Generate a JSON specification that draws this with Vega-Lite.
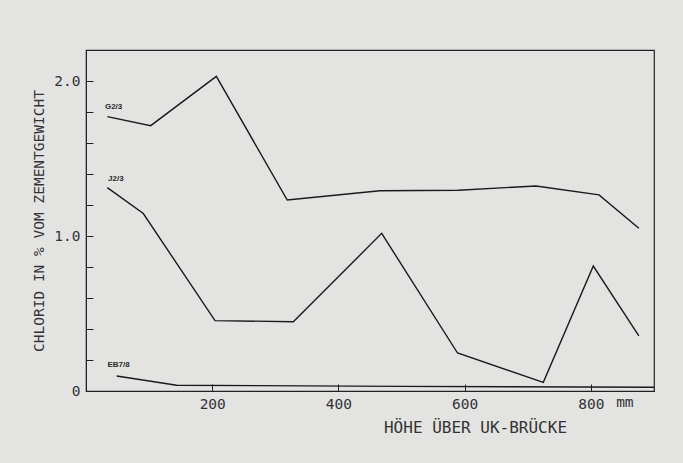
{
  "$schema": "https://vega.github.io/schema/vega-lite/v6.json",
  "width": 568,
  "height": 341,
  "autosize": {"type": "none"},
  "padding": {"left": 86, "top": 50, "right": 29, "bottom": 72},
  "background": "#e3e3e2",
  "config": {
    "view": {"stroke": "#222222", "strokeWidth": 1.2},
    "font": "DejaVu Sans Mono"
  },
  "datasets": {
    "lines": [
      {"serie": "G2/3", "hoehe": 33.8, "chlorid": 1.770},
      {"serie": "G2/3", "hoehe": 102.5, "chlorid": 1.712},
      {"serie": "G2/3", "hoehe": 206.5, "chlorid": 2.030},
      {"serie": "G2/3", "hoehe": 318.9, "chlorid": 1.232},
      {"serie": "G2/3", "hoehe": 465.8, "chlorid": 1.292},
      {"serie": "G2/3", "hoehe": 590, "chlorid": 1.295},
      {"serie": "G2/3", "hoehe": 713, "chlorid": 1.323},
      {"serie": "G2/3", "hoehe": 812.9, "chlorid": 1.265},
      {"serie": "G2/3", "hoehe": 876, "chlorid": 1.050},
      {"serie": "J2/3", "hoehe": 33.8, "chlorid": 1.312},
      {"serie": "J2/3", "hoehe": 90.8, "chlorid": 1.145},
      {"serie": "J2/3", "hoehe": 204.4, "chlorid": 0.454},
      {"serie": "J2/3", "hoehe": 328.5, "chlorid": 0.447},
      {"serie": "J2/3", "hoehe": 468.5, "chlorid": 1.017},
      {"serie": "J2/3", "hoehe": 588.7, "chlorid": 0.245},
      {"serie": "J2/3", "hoehe": 724.6, "chlorid": 0.056},
      {"serie": "J2/3", "hoehe": 803.8, "chlorid": 0.806},
      {"serie": "J2/3", "hoehe": 876, "chlorid": 0.355},
      {"serie": "EB7/8", "hoehe": 48.6, "chlorid": 0.097},
      {"serie": "EB7/8", "hoehe": 143.7, "chlorid": 0.037},
      {"serie": "EB7/8", "hoehe": 500, "chlorid": 0.030},
      {"serie": "EB7/8", "hoehe": 900, "chlorid": 0.024}
    ],
    "labels": [
      {"text": "G2/3", "hoehe": 30, "chlorid": 1.834},
      {"text": "J2/3", "hoehe": 35, "chlorid": 1.368},
      {"text": "EB7/8", "hoehe": 34, "chlorid": 0.168}
    ],
    "unit": [
      {"text": "mm", "hoehe": 840, "chlorid": 0}
    ]
  },
  "layer": [
    {
      "data": {"name": "lines"},
      "mark": {"type": "line", "color": "#1a1a1a", "strokeWidth": 1.4},
      "encoding": {
        "x": {
          "field": "hoehe", "type": "quantitative",
          "scale": {"domain": [0, 900], "nice": false},
          "axis": {
            "values": [200, 400, 600, 800],
            "tickCount": 20,
            "grid": false,
            "tickSize": -7,
            "labelPadding": 13,
            "labelFontSize": 14.5,
            "labelColor": "#333333",
            "labelFont": "DejaVu Sans Mono",
            "labelOverlap": false,
            "labelFlush": false,
            "domainColor": "#222222",
            "tickColor": "#222222",
            "title": "HÖHE ÜBER UK-BRÜCKE",
            "titleFont": "DejaVu Sans Mono",
            "titleFontSize": 16,
            "titleFontWeight": "normal",
            "titleColor": "#333333",
            "titleX": 389,
            "titleY": 36,
            "titleAlign": "center",
            "titleBaseline": "middle"
          }
        },
        "y": {
          "field": "chlorid", "type": "quantitative",
          "scale": {"domain": [0, 2.2], "nice": false},
          "axis": {
            "values": [0, 0.2, 0.4, 0.6, 0.8, 1.0, 1.2, 1.4, 1.6, 1.8, 2.0],
            "tickCount": 30,
            "labelExpr": "datum.value == 0 ? '0' : (abs(datum.value - 1) < 0.001 || abs(datum.value - 2) < 0.001) ? format(datum.value, '.1f') : ''",
            "grid": false,
            "tickSize": -7,
            "labelPadding": 13,
            "labelFontSize": 14.5,
            "labelColor": "#333333",
            "labelFont": "DejaVu Sans Mono",
            "labelOverlap": false,
            "domainColor": "#222222",
            "tickColor": "#222222",
            "title": "CHLORID IN % VOM ZEMENTGEWICHT",
            "titleFont": "DejaVu Sans Mono",
            "titleFontSize": 14.5,
            "titleFontWeight": "normal",
            "titleColor": "#333333",
            "titlePadding": 7
          }
        },
        "detail": {"field": "serie"}
      }
    },
    {
      "data": {"name": "labels"},
      "mark": {"type": "text", "align": "left", "baseline": "middle", "font": "Liberation Sans", "fontSize": 8, "fontWeight": "bold", "color": "#2a2a2a"},
      "encoding": {
        "x": {"field": "hoehe", "type": "quantitative"},
        "y": {"field": "chlorid", "type": "quantitative"},
        "text": {"field": "text"}
      }
    },
    {
      "data": {"name": "unit"},
      "mark": {"type": "text", "align": "left", "baseline": "top", "dy": 5, "font": "DejaVu Sans Mono", "fontSize": 14.5, "color": "#333333", "clip": false},
      "encoding": {
        "x": {"field": "hoehe", "type": "quantitative"},
        "y": {"field": "chlorid", "type": "quantitative"},
        "text": {"field": "text"}
      }
    }
  ]
}
